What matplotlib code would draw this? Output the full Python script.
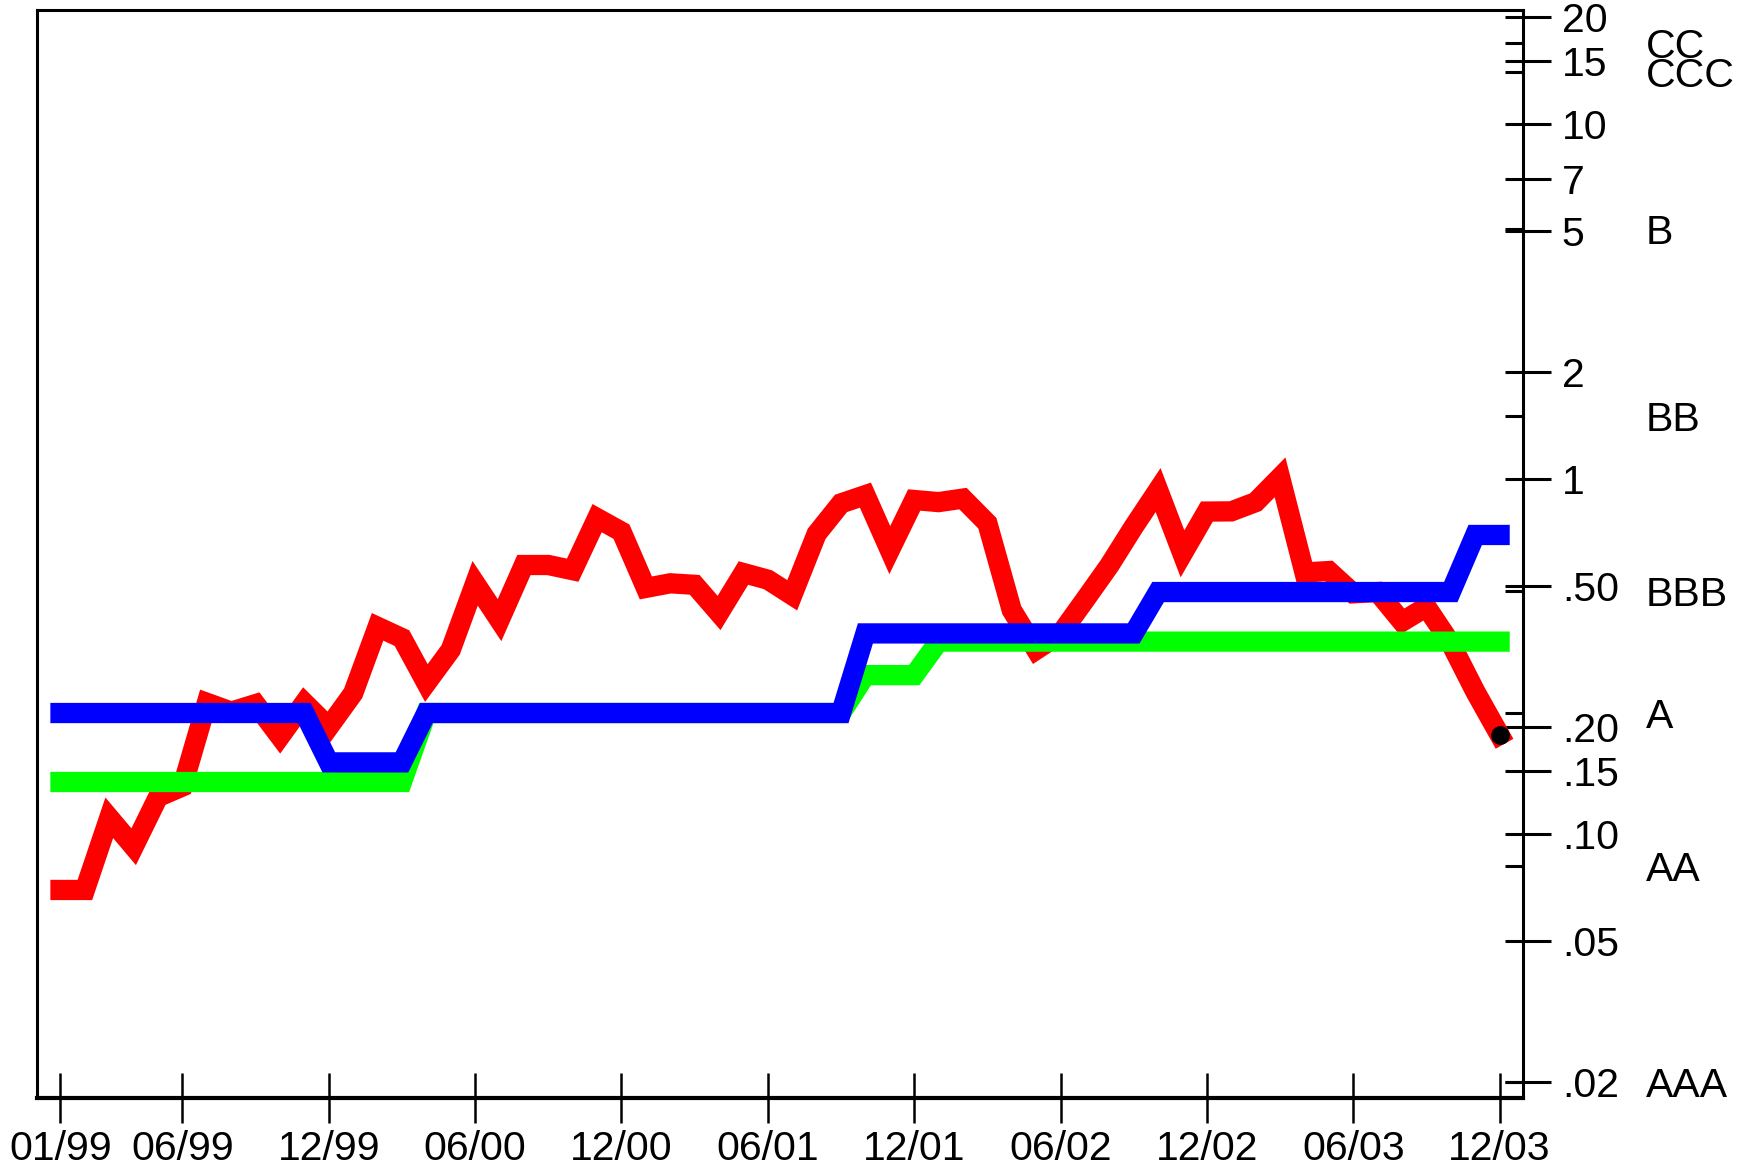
import matplotlib
matplotlib.use("Agg")
import matplotlib.pyplot as plt
from matplotlib.ticker import FixedLocator, NullFormatter, FixedFormatter
import numpy as np

plt.rcParams['font.family'] = ['Liberation Sans', 'DejaVu Sans']

# ---- data -------------------------------------------------------------
month_labels = ["01/99", "06/99", "12/99", "06/00", "12/00", "06/01",
                "12/01", "06/02", "12/02", "06/03", "12/03"]
month_label_pos = [0, 5, 11, 17, 23, 29, 35, 41, 47, 53, 59]

red_values = [0.0695, 0.0695, 0.111, 0.092, 0.127, 0.136, 0.234, 0.221, 0.232, 0.188,
              0.234, 0.200, 0.249, 0.383, 0.356, 0.266, 0.330, 0.508, 0.400, 0.572,
              0.572, 0.553, 0.775, 0.710, 0.493, 0.508, 0.503, 0.419, 0.543, 0.520,
              0.470, 0.700, 0.853, 0.900, 0.630, 0.872, 0.860, 0.880, 0.750, 0.427,
              0.330, 0.366, 0.456, 0.570, 0.733, 0.930, 0.615, 0.809, 0.810, 0.860,
              1.010, 0.545, 0.550, 0.476, 0.480, 0.396, 0.436, 0.344, 0.252, 0.190]

green_values = [0.140, 0.140, 0.140, 0.140, 0.140, 0.140, 0.140, 0.140, 0.140, 0.140,
                0.140, 0.140, 0.140, 0.140, 0.140, 0.219, 0.219, 0.219, 0.219, 0.219,
                0.219, 0.219, 0.219, 0.219, 0.219, 0.219, 0.219, 0.219, 0.219, 0.219,
                0.219, 0.219, 0.219, 0.280, 0.280, 0.280, 0.348, 0.348, 0.348, 0.348,
                0.348, 0.348, 0.348, 0.348, 0.348, 0.348, 0.348, 0.348, 0.348, 0.348,
                0.348, 0.348, 0.348, 0.348, 0.348, 0.348, 0.348, 0.348, 0.348, 0.348]

blue_values = [0.219, 0.219, 0.219, 0.219, 0.219, 0.219, 0.219, 0.219, 0.219, 0.219,
               0.219, 0.159, 0.159, 0.159, 0.159, 0.219, 0.219, 0.219, 0.219, 0.219,
               0.219, 0.219, 0.219, 0.219, 0.219, 0.219, 0.219, 0.219, 0.219, 0.219,
               0.219, 0.219, 0.219, 0.367, 0.367, 0.367, 0.367, 0.367, 0.367, 0.367,
               0.367, 0.367, 0.367, 0.367, 0.367, 0.480, 0.480, 0.480, 0.480, 0.480,
               0.480, 0.480, 0.480, 0.480, 0.480, 0.480, 0.480, 0.480, 0.695, 0.695]

y_tick_values = [0.02, 0.05, 0.10, 0.15, 0.20, 0.50, 1, 2, 5, 7, 10, 15, 20]
y_tick_labels = [".02", ".05", ".10", ".15", ".20", ".50", "1", "2", "5", "7", "10", "15", "20"]

rating_names = ["AAA", "AA", "A", "BBB", "BB", "B", "CCC", "CC"]
rating_levels = [0.02, 0.081, 0.219, 0.484, 1.5, 5.05, 14.0, 16.9]

# ---- figure ----------------------------------------------------------
W, H, DPI = 1757, 1166, 100
fig = plt.figure(figsize=(W / DPI, H / DPI), dpi=DPI)
ax = fig.add_axes([37 / W, 1 - 1098 / H, (1523 - 37) / W, (1098 - 10) / H])

x = np.arange(len(red_values))
lw = 14.6
common = dict(solid_capstyle='projecting', solid_joinstyle='miter')
ax.plot(x, red_values, color='#ff0000', lw=lw, zorder=2, **common)
ax.plot(x, green_values, color='#00ff00', lw=lw, zorder=3, **common)
ax.plot(x, blue_values, color='#0000ff', lw=lw, zorder=4, **common)
ax.plot([x[-1]], [red_values[-1]], 'o', color='black', ms=12.5, zorder=5)

ax.set_yscale('log')
ax.set_ylim(0.01803, 20.93)
ax.set_xlim(-0.963, 59.96)

FS = 29.5

# x axis
ax.set_xticks(month_label_pos)
ax.set_xticklabels(month_labels, fontsize=FS)
ax.tick_params(axis='x', direction='inout', length=36, width=1.8, pad=5, color='black')
ax.xaxis.set_minor_locator(FixedLocator([]))

# y axis on the right
ax.yaxis.tick_right()
ax.yaxis.set_major_locator(FixedLocator(y_tick_values))
ax.yaxis.set_major_formatter(FixedFormatter(y_tick_labels))
ax.yaxis.remove_overlapping_locs = False
ax.yaxis.set_minor_locator(FixedLocator(y_tick_values + rating_levels))
ax.yaxis.set_minor_formatter(NullFormatter())
ax.tick_params(axis='y', which='major', direction='out', length=20, width=2.2,
               pad=8, labelsize=FS, right=True, left=False)
ax.tick_params(axis='y', which='minor', direction='in', length=13, width=2.2,
               right=True, left=False)

for s in ['left', 'right', 'top']:
    ax.spines[s].set_linewidth(2.2)
ax.spines['bottom'].set_linewidth(3)

# rating labels
trans = ax.get_yaxis_transform()
for name, lev in zip(rating_names, rating_levels):
    ax.text(1.0828, lev, name, transform=trans, ha='left', va='center_baseline',
            fontsize=FS, clip_on=False)

fig.savefig('out.png', dpi=DPI)
